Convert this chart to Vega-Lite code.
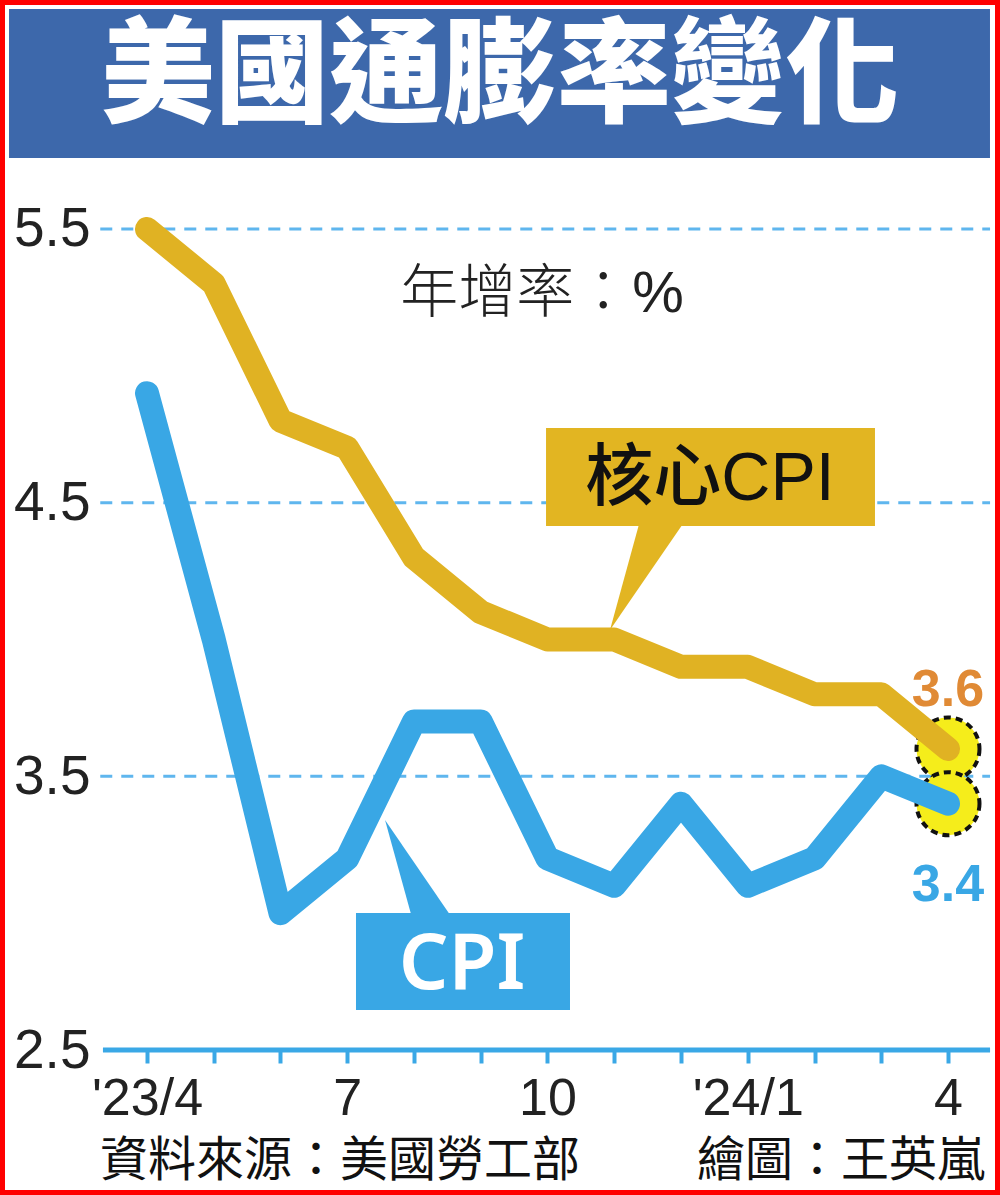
{
  "$schema": "https://vega.github.io/schema/vega-lite/v6.json",
  "width": 1000,
  "height": 1195,
  "autosize": {"type": "none"},
  "padding": 0,
  "background": "white",
  "config": {"view": {"stroke": "#ff0000", "strokeWidth": 10}, "font": "Liberation Sans"},
  "data": {"values": [
    {"month": 0, "period": "2023-04", "series": "核心CPI", "value": 5.5},
    {"month": 1, "period": "2023-05", "series": "核心CPI", "value": 5.3},
    {"month": 2, "period": "2023-06", "series": "核心CPI", "value": 4.8},
    {"month": 3, "period": "2023-07", "series": "核心CPI", "value": 4.7},
    {"month": 4, "period": "2023-08", "series": "核心CPI", "value": 4.3},
    {"month": 5, "period": "2023-09", "series": "核心CPI", "value": 4.1},
    {"month": 6, "period": "2023-10", "series": "核心CPI", "value": 4.0},
    {"month": 7, "period": "2023-11", "series": "核心CPI", "value": 4.0},
    {"month": 8, "period": "2023-12", "series": "核心CPI", "value": 3.9},
    {"month": 9, "period": "2024-01", "series": "核心CPI", "value": 3.9},
    {"month": 10, "period": "2024-02", "series": "核心CPI", "value": 3.8},
    {"month": 11, "period": "2024-03", "series": "核心CPI", "value": 3.8},
    {"month": 12, "period": "2024-04", "series": "核心CPI", "value": 3.6},
    {"month": 0, "period": "2023-04", "series": "CPI", "value": 4.9},
    {"month": 1, "period": "2023-05", "series": "CPI", "value": 4.0},
    {"month": 2, "period": "2023-06", "series": "CPI", "value": 3.0},
    {"month": 3, "period": "2023-07", "series": "CPI", "value": 3.2},
    {"month": 4, "period": "2023-08", "series": "CPI", "value": 3.7},
    {"month": 5, "period": "2023-09", "series": "CPI", "value": 3.7},
    {"month": 6, "period": "2023-10", "series": "CPI", "value": 3.2},
    {"month": 7, "period": "2023-11", "series": "CPI", "value": 3.1},
    {"month": 8, "period": "2023-12", "series": "CPI", "value": 3.4},
    {"month": 9, "period": "2024-01", "series": "CPI", "value": 3.1},
    {"month": 10, "period": "2024-02", "series": "CPI", "value": 3.2},
    {"month": 11, "period": "2024-03", "series": "CPI", "value": 3.5},
    {"month": 12, "period": "2024-04", "series": "CPI", "value": 3.4}
  ]},
  "layer": [
    {
      "data": {"values": [{}]},
      "mark": {"type": "rect", "color": "#3d68ab"},
      "encoding": {
        "x": {"datum": -2.067, "type": "quantitative"},
        "x2": {"datum": 12.629},
        "y": {"datum": 6.304, "type": "quantitative"},
        "y2": {"datum": 5.759}
      }
    },
    {
      "data": {"values": [{}]},
      "mark": {"type": "text", "text": "美國通膨率變化", "font": "Liberation Sans, Noto Sans CJK TC", "fontSize": 114, "fontWeight": 900, "color": "#ffffff", "align": "center", "baseline": "middle"},
      "encoding": {
        "x": {"datum": 5.288, "type": "quantitative"},
        "y": {"datum": 6.048, "type": "quantitative"}
      }
    },
    {
      "data": {"values": [{"level": 5.5}, {"level": 4.5}, {"level": 3.5}]},
      "mark": {"type": "rule", "color": "#5fb6ee", "strokeWidth": 3, "strokeDash": [12, 9]},
      "encoding": {
        "y": {"field": "level", "type": "quantitative"},
        "x": {"datum": -0.70, "type": "quantitative"},
        "x2": {"datum": 12.63}
      }
    },
    {
      "data": {"values": [{"level": 2.5}]},
      "mark": {"type": "rule", "color": "#3aa8e6", "strokeWidth": 5},
      "encoding": {
        "y": {"field": "level", "type": "quantitative"},
        "x": {"datum": -0.66, "type": "quantitative"},
        "x2": {"datum": 12.63}
      }
    },
    {
      "data": {"values": [{}]},
      "mark": {"type": "text", "text": "年增率：%", "font": "Liberation Sans, Noto Sans CJK TC", "fontSize": 58, "fontWeight": 300, "color": "#222222", "align": "center", "baseline": "middle"},
      "encoding": {
        "x": {"datum": 5.918, "type": "quantitative"},
        "y": {"datum": 5.2606, "type": "quantitative"}
      }
    },
    {
      "transform": [{"filter": "datum.month === 12"}],
      "mark": {"type": "point", "shape": "circle", "size": 3969, "filled": true, "fill": "#f5ed1b", "stroke": "#111111", "strokeWidth": 4, "strokeDash": [7, 5], "opacity": 1},
      "encoding": {
        "x": {"field": "month", "type": "quantitative"},
        "y": {"field": "value", "type": "quantitative"}
      }
    },
    {
      "mark": {"type": "line", "strokeWidth": 24, "strokeCap": "round", "strokeJoin": "round"},
      "encoding": {
        "x": {
          "field": "month", "type": "quantitative",
          "scale": {"domain": [-2.2022, 12.779], "nice": false, "zero": false},
          "axis": {
            "values": [0, 1, 2, 3, 4, 5, 6, 7, 8, 9, 10, 11, 12],
            "labelExpr": "datum.value === 0 ? \"'23/4\" : datum.value === 3 ? '7' : datum.value === 6 ? '10' : datum.value === 9 ? \"'24/1\" : datum.value === 12 ? '4' : ''",
            "offset": -145, "domain": false, "grid": false,
            "ticks": true, "tickSize": 13, "tickWidth": 4, "tickColor": "#3aa8e6",
            "labelFontSize": 52, "labelFont": "Liberation Sans", "labelColor": "#222222",
            "labelPadding": 10, "labelFlush": false, "labelOverlap": false, "labelBound": false,
            "title": null
          }
        },
        "y": {
          "field": "value", "type": "quantitative",
          "scale": {"domain": [1.9702, 6.3367], "nice": false, "zero": false},
          "axis": {
            "orient": "left", "values": [2.5, 3.5, 4.5, 5.5], "format": ".1f",
            "offset": -100, "domain": false, "ticks": false, "grid": false,
            "labelPadding": 10, "labelFontSize": 55, "labelFont": "Liberation Sans", "labelColor": "#222222",
            "labelFlush": false, "labelOverlap": false, "title": null
          }
        },
        "color": {
          "field": "series", "type": "nominal",
          "scale": {"domain": ["核心CPI", "CPI"], "range": ["#e0b223", "#39a7e5"]},
          "legend": null
        },
        "detail": {"field": "series"}
      }
    },
    {
      "data": {"values": [{}]},
      "mark": {"type": "point", "shape": "M0,0 L0.283,-1.03 L0.708,-1.03 Z", "size": 44944, "filled": true, "fill": "#e2b522", "strokeWidth": 0, "opacity": 1},
      "encoding": {
        "x": {"datum": 6.936, "type": "quantitative"},
        "y": {"datum": 4.0347, "type": "quantitative"}
      }
    },
    {
      "data": {"values": [{}]},
      "mark": {"type": "rect", "color": "#e2b522"},
      "encoding": {
        "x": {"datum": 5.978, "type": "quantitative"},
        "x2": {"datum": 10.906},
        "y": {"datum": 4.7728, "type": "quantitative"},
        "y2": {"datum": 4.4147}
      }
    },
    {
      "data": {"values": [{}]},
      "mark": {"type": "text", "text": "核心CPI", "font": "Liberation Sans, Noto Sans CJK TC", "fontSize": 68, "fontWeight": 500, "color": "#111111", "align": "center", "baseline": "middle"},
      "encoding": {
        "x": {"datum": 8.434, "type": "quantitative"},
        "y": {"datum": 4.5813, "type": "quantitative"}
      }
    },
    {
      "data": {"values": [{}]},
      "mark": {"type": "point", "shape": "M0,0 L0.284,1.03 L0.705,1.03 Z", "size": 36100, "filled": true, "fill": "#39a7e5", "strokeWidth": 0, "opacity": 1},
      "encoding": {
        "x": {"datum": 3.566, "type": "quantitative"},
        "y": {"datum": 3.3404, "type": "quantitative"}
      }
    },
    {
      "data": {"values": [{}]},
      "mark": {"type": "rect", "color": "#39a7e5"},
      "encoding": {
        "x": {"datum": 3.131, "type": "quantitative"},
        "x2": {"datum": 6.337},
        "y": {"datum": 3.0006, "type": "quantitative"},
        "y2": {"datum": 2.6462}
      }
    },
    {
      "data": {"values": [{}]},
      "mark": {"type": "text", "text": "CPI", "font": "Noto Sans", "fontSize": 78, "fontWeight": 600, "color": "#ffffff", "align": "center", "baseline": "middle"},
      "encoding": {
        "x": {"datum": 4.719, "type": "quantitative"},
        "y": {"datum": 2.8055, "type": "quantitative"}
      }
    },
    {
      "transform": [{"filter": "datum.month === 12 && datum.series === '核心CPI'"}],
      "mark": {"type": "text", "font": "Liberation Sans", "fontSize": 52, "fontWeight": "bold", "color": "#e08a35", "align": "center", "baseline": "middle", "dy": -59},
      "encoding": {
        "x": {"field": "month", "type": "quantitative"},
        "y": {"field": "value", "type": "quantitative"},
        "text": {"field": "value", "type": "quantitative", "format": ".1f"}
      }
    },
    {
      "transform": [{"filter": "datum.month === 12 && datum.series === 'CPI'"}],
      "mark": {"type": "text", "font": "Liberation Sans", "fontSize": 52, "fontWeight": "bold", "color": "#39a7e5", "align": "center", "baseline": "middle", "dy": 81},
      "encoding": {
        "x": {"field": "month", "type": "quantitative"},
        "y": {"field": "value", "type": "quantitative"},
        "text": {"field": "value", "type": "quantitative", "format": ".1f"}
      }
    },
    {
      "data": {"values": [{}]},
      "mark": {"type": "text", "text": "資料來源：美國勞工部", "font": "Liberation Sans, Noto Sans CJK TC", "fontSize": 48, "fontWeight": 400, "color": "#111111", "align": "left", "baseline": "middle"},
      "encoding": {
        "x": {"datum": -0.704, "type": "quantitative"},
        "y": {"datum": 2.0907, "type": "quantitative"}
      }
    },
    {
      "data": {"values": [{}]},
      "mark": {"type": "text", "text": "繪圖：王英嵐", "font": "Liberation Sans, Noto Sans CJK TC", "fontSize": 48, "fontWeight": 400, "color": "#111111", "align": "right", "baseline": "middle"},
      "encoding": {
        "x": {"datum": 12.554, "type": "quantitative"},
        "y": {"datum": 2.0907, "type": "quantitative"}
      }
    }
  ]
}
